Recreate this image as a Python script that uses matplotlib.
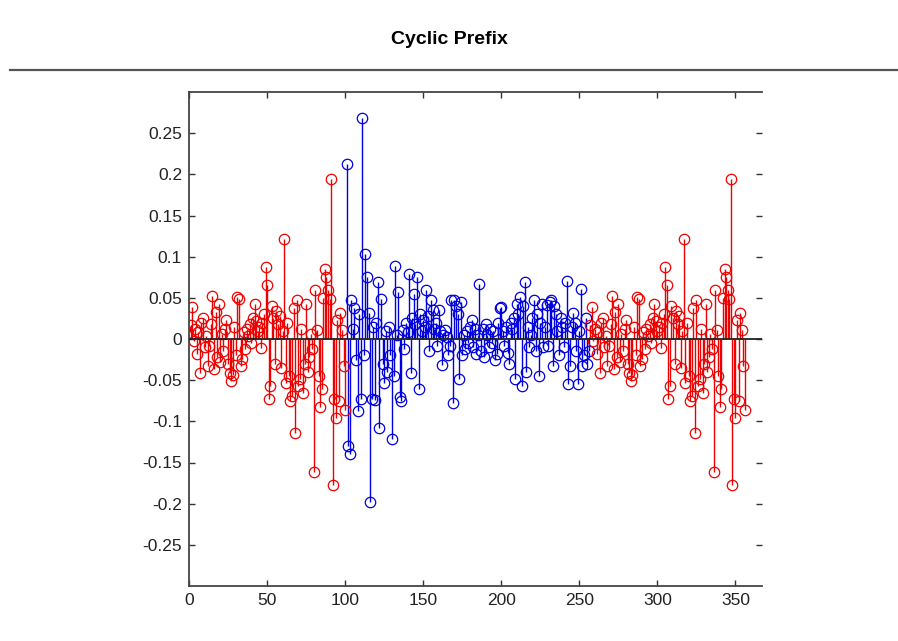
import numpy as np
import matplotlib
matplotlib.use('Agg')
import matplotlib.pyplot as plt
from matplotlib.lines import Line2D

# cyclic prefix samples (copied from the tail of the OFDM symbol)
prefix_vals = [
    0.017, 0.039, -0.003, 0.012, -0.018, 0.008, -0.041, 0.020, 0.025, -0.010,
    0.004, -0.033, -0.009, 0.018, 0.052, -0.037, 0.033, -0.022, 0.043, -0.028,
    0.006, -0.015, 0.012, 0.023, -0.030, -0.041, -0.051, -0.044, 0.015, -0.020,
    0.051, 0.048, -0.033, -0.024, 0.008, -0.012, 0.012, 0.004, 0.018, -0.005,
    0.026, 0.042, 0.022, 0.010, 0.015, -0.011, 0.020, 0.030, 0.088, 0.065,
    -0.073, -0.057, 0.040, 0.025, -0.030, 0.034, 0.018, 0.028, -0.035, 0.010,
    0.121, -0.053, 0.020, -0.045, -0.075, -0.069, 0.038, -0.114, 0.047, -0.057,
    -0.048, 0.012, -0.065, -0.030, 0.043, -0.040, -0.022, 0.006, -0.012, -0.162,
    0.059, 0.011, -0.045, -0.082, -0.061, 0.050, 0.085, 0.075, 0.060, 0.048,
    0.194, -0.177, -0.073, -0.096, 0.023, -0.075, 0.031, 0.011, -0.033, -0.086,
]

# body of the symbol that is not part of the copied tail
body_vals = [
    0.213, -0.130, -0.140, 0.047, 0.012, 0.038, -0.025, -0.088, 0.030, -0.073,
    0.268, -0.020, 0.103, 0.075, 0.031, -0.198, -0.073, 0.015, -0.074, 0.020,
    0.069, -0.108, 0.049, -0.030, -0.053, 0.010, -0.040, 0.015, -0.020, -0.122,
    -0.045, 0.089, 0.005, 0.057, -0.070, -0.075, 0.011, -0.012, 0.020, 0.008,
    0.079, -0.041, 0.025, 0.055, 0.018, 0.075, -0.061, 0.030, 0.010, 0.023,
    0.015, 0.059, 0.028, -0.015, 0.047, 0.035, 0.012, 0.020, -0.008, 0.035,
    0.010, -0.031, 0.005, 0.011, 0.002, -0.019, -0.008, 0.047, -0.078, 0.047,
    0.040, 0.030, -0.049, 0.045, -0.020, 0.005, -0.012, 0.010, -0.005, 0.015,
    0.023, -0.010, 0.012, -0.018, 0.005, 0.067, -0.015, 0.012, -0.022, 0.018,
    0.005, -0.010, 0.012, -0.005, 0.010, -0.025, -0.018, 0.020, 0.038, 0.039,
    0.010, -0.008, 0.015, -0.017, -0.030, 0.020, 0.012, 0.025, -0.049, 0.043,
    0.030, 0.051, -0.057, 0.040, 0.069, -0.040, 0.015, -0.010, 0.005, 0.025,
    0.047, -0.015, 0.030, -0.045, 0.020, 0.043, -0.010, 0.015, 0.041, -0.008,
    0.045, 0.047, -0.033, 0.040, 0.030, 0.010, -0.020, 0.025, 0.015, -0.010,
    0.020, 0.071, -0.055, -0.033, 0.015, 0.031, 0.020, -0.015, -0.055, 0.010,
    0.061, -0.033, -0.020, 0.025, -0.030, -0.015,
]

# the tail of the symbol is what the prefix repeats
tail_vals = prefix_vals

x_ticks = [0, 50, 100, 150, 200, 250, 300, 350]
y_ticks = [-0.25, -0.2, -0.15, -0.1, -0.05, 0, 0.05, 0.1, 0.15, 0.2, 0.25]
y_labels = ['-0.25', '-0.2', '-0.15', '-0.1', '-0.05', '0',
            '0.05', '0.1', '0.15', '0.2', '0.25']


def draw_stem(ax, x, y, color):
    ax.vlines(x, 0, y, colors=color, linewidth=1.0, zorder=2)
    ax.plot(x, y, 'o', markersize=7.5, markerfacecolor='none',
            markeredgecolor=color, markeredgewidth=0.9, zorder=3)


plt.rcParams['font.family'] = ['Liberation Sans', 'DejaVu Sans']
plt.rcParams['xtick.direction'] = 'in'
plt.rcParams['ytick.direction'] = 'in'

fig = plt.figure(figsize=(8.98, 6.41), dpi=100)

# page header
fig.text(0.5, 1 - 40 / 641, 'Cyclic Prefix', ha='center', va='center',
         fontsize=14, fontweight='bold', color='black')
fig.add_artist(Line2D([10 / 898, 1.0], [1 - 70 / 641, 1 - 70 / 641],
                      color='#555555', linewidth=1.6))

ax = fig.add_axes([189 / 898, 1 - 586 / 641, (762 - 189) / 898, (586 - 92) / 641])

n_pre = len(prefix_vals)
n_body = len(body_vals)
x_pre = np.arange(1, n_pre + 1)
x_body = np.arange(n_pre + 1, n_pre + n_body + 1)
x_tail = np.arange(n_pre + n_body + 1, n_pre + n_body + len(tail_vals) + 1)

draw_stem(ax, x_pre, prefix_vals, '#ee0000')
draw_stem(ax, x_body, body_vals, '#0000dd')
draw_stem(ax, x_tail, tail_vals, '#ee0000')

ax.axhline(0, color='#222222', linewidth=1.3, zorder=4)

ax.set_xlim(0, 367)
ax.set_ylim(-0.3, 0.3)
ax.set_xticks(x_ticks)
ax.set_yticks(y_ticks)
ax.set_yticklabels(y_labels)

ax.tick_params(axis='both', which='both', top=True, right=True,
               length=4, width=1, color='#333333', labelsize=12.5,
               labelcolor='#222222', pad=5)

for side in ['left', 'bottom', 'top']:
    ax.spines[side].set_color('#444444')
    ax.spines[side].set_linewidth(1.3)
ax.spines['right'].set_visible(False)

fig.savefig('out.png', dpi=100)
